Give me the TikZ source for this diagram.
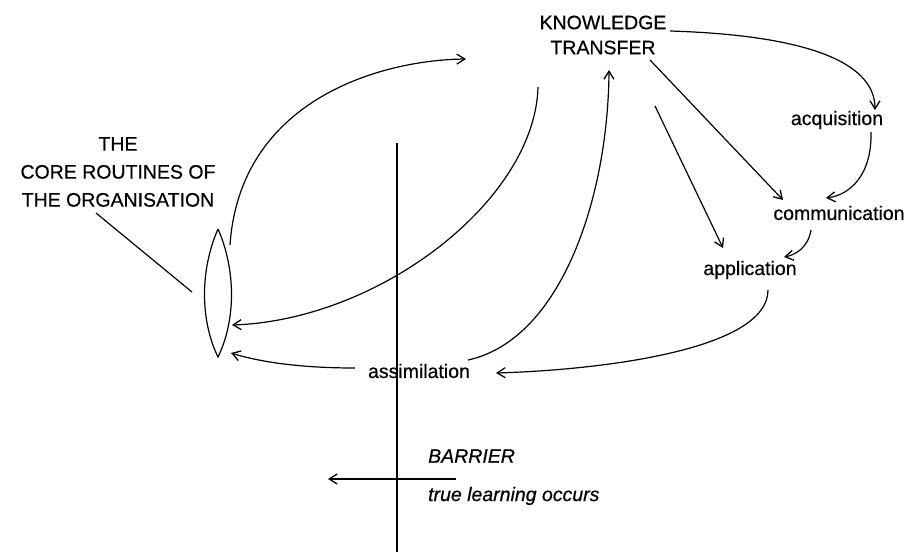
\documentclass[tikz,border=0pt]{standalone}
\usepackage{fontspec}
\setmainfont{Liberation Sans}
\newfontfamily\embfont{Liberation Sans}[FakeBold=0.5]
\usetikzlibrary{arrows.meta}
\begin{document}
\begin{tikzpicture}[x=1pt,y=-1pt,
  lbl/.style={inner sep=0pt,font=\embfont\fontsize{19.5}{25}\selectfont},
  ital/.style={inner sep=0pt,anchor=west,font=\embfont\fontsize{19.5}{25}\selectfont\itshape},
  conn/.style={line width=1.2pt,-{Straight Barb[length=8pt,width=10pt,line width=1.3pt]}},
  plain/.style={line width=1.2pt}]
\useasboundingbox (0,0) rectangle (909,554);
% text nodes
\node[lbl,align=center] (kt) at (603,35) {KNOWLEDGE\\TRANSFER};
\node[lbl] (acq) at (837,120) {acquisition};
\node[lbl] (com) at (839,213) {communication};
\node[lbl] (app) at (750,270) {application};
\node[lbl] (assim) at (419,371) {assimilation};
\node[lbl,align=center,font=\embfont\fontsize{19.5}{28}\selectfont] (core) at (118,172) {THE\\CORE ROUTINES OF\\THE ORGANISATION};
\node[ital] (barrier) at (428,456) {BARRIER};
\node[ital] (learn) at (428,496) {true learning occurs};
% lens
\coordinate (lenstop) at (218,229);
\coordinate (lensbot) at (218,357);
\draw[plain] (lenstop) .. controls (200,270) and (200,320) .. (lensbot)
  .. controls (236,320) and (236,270) .. (lenstop);
% pointer from label to lens
\coordinate (ptrA) at (96,213);
\coordinate (ptrB) at (192,292);
\draw[plain] (ptrA) -- (ptrB);
% barrier line
\coordinate (barT) at (397,143);
\coordinate (barB) at (397,552);
\draw[plain] (barT) -- (barB);
% learning arrow
\coordinate (learnS) at (456,479);
\coordinate (learnE) at (328,479);
\draw[conn] (learnS) -- (learnE);
% connector coordinates
\coordinate (lensR1) at (230,245);
\coordinate (ktL) at (466,59);
\coordinate (ktB1) at (538,87);
\coordinate (lensR2) at (232,325);
\coordinate (assimR) at (468,360);
\coordinate (ktB2) at (609,70);
\coordinate (appB) at (768,290);
\coordinate (assimR2) at (496,373);
\coordinate (ktR) at (670,31);
\coordinate (acqT) at (875,110);
\coordinate (acqB) at (871,132);
\coordinate (comT) at (826,198);
\coordinate (comB) at (811,230);
\coordinate (appT) at (784,257);
\coordinate (ktB3) at (650,60);
\coordinate (comTL) at (783,200);
\coordinate (ktB4) at (655,106);
\coordinate (appTL) at (723,248);
\coordinate (assimL) at (355,368);
\coordinate (lensR3) at (231,353);
% connectors
\draw[conn] (lensR1) .. controls (240,100) and (380,60) .. (ktL);
\draw[conn] (ktB1) .. controls (535,200) and (380,320) .. (lensR2);
\draw[conn] (assimR) .. controls (560,340) and (608,200) .. (ktB2);
\draw[conn] (appB) .. controls (768,350) and (600,370) .. (assimR2);
\draw[conn] (ktR) .. controls (800,35) and (875,60) .. (acqT);
\draw[conn] (acqB) .. controls (872,175) and (850,195) .. (comT);
\draw[conn] (comB) .. controls (808,248) and (795,255) .. (appT);
\draw[conn] (ktB3) -- (comTL);
\draw[conn] (ktB4) -- (appTL);
\draw[conn] (assimL) .. controls (300,368) and (260,362) .. (lensR3);
\end{tikzpicture}
\end{document}
